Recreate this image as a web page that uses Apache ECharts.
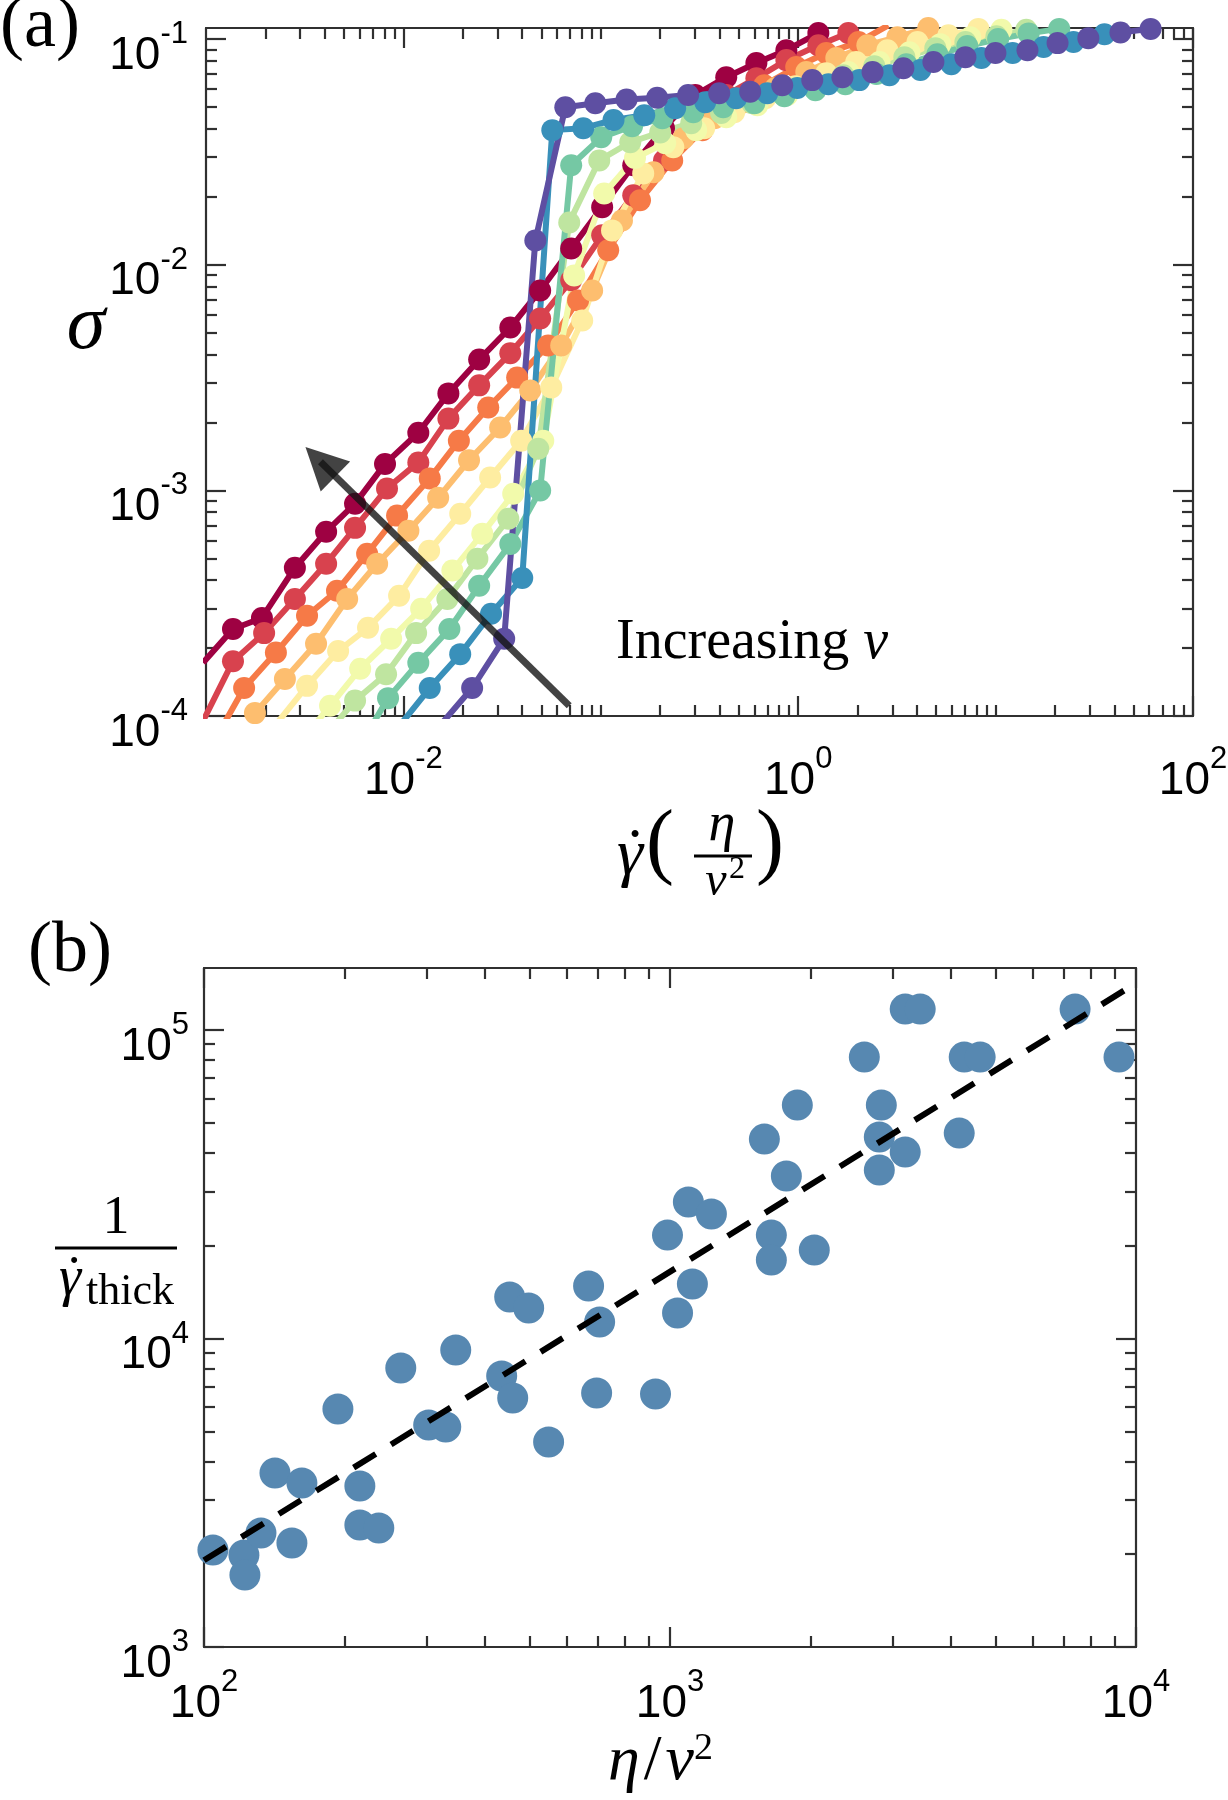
<!DOCTYPE html>
<html><head><meta charset="utf-8">
<script src="https://cdn.jsdelivr.net/npm/echarts@6/dist/echarts.min.js"></script>
<style>html,body{margin:0;padding:0;background:#fff}#c{width:1228px;height:1800px}</style>
</head><body><div id="c"></div>
<script>
// ---------------- Panel (a) data: shear rate (eta/v^2 units) vs stress ----------------
const curveColors = ['#9e0142','#d8424e','#f67a47','#fdbe6f','#feeda1','#f2faab','#bfe5a0','#75c8a4','#3990ba','#5e4fa2'];

const rate_v1 = [0.000966,0.00137,0.00192,0.00282,0.00406,0.00569,0.00807,0.0119,0.0169,0.0242,0.0348,0.0493,0.0708,0.1016,0.146,0.209,0.301,0.432,0.614,0.871,1.265];
const stress_v1 = [1.72e-4,2.43e-4,2.72e-4,4.54e-4,6.56e-4,8.73e-4,1.31e-3,1.80e-3,2.69e-3,3.80e-3,5.27e-3,7.69e-3,1.18e-2,1.80e-2,2.76e-2,4.03e-2,5.65e-2,6.78e-2,7.83e-2,8.93e-2,0.1064];

const rate_v2 = [0.000966,0.00137,0.00197,0.00282,0.00406,0.00569,0.00826,0.0119,0.0169,0.0242,0.0348,0.0493,0.0708,0.1016,0.146,0.209,0.301,0.432,0.614,0.871,1.265,1.795];
const stress_v2 = [9.5e-5,1.75e-4,2.33e-4,3.30e-4,4.73e-4,6.82e-4,1.02e-3,1.33e-3,2.08e-3,2.92e-3,4.05e-3,5.78e-3,8.53e-3,1.35e-2,2.03e-2,2.90e-2,4.15e-2,5.65e-2,6.71e-2,8.07e-2,9.40e-2,0.1064];

const rate_v3 = [0.00110,0.00156,0.00226,0.00325,0.00461,0.00655,0.00929,0.0136,0.0191,0.0269,0.0377,0.0541,0.0767,0.109,0.158,0.230,0.327,0.469,0.673,0.977,1.387,2.02,2.86];
const stress_v3 = [7.74e-5,1.33e-4,1.91e-4,2.78e-4,3.59e-4,5.24e-4,7.73e-4,1.13e-3,1.66e-3,2.33e-3,3.16e-3,4.39e-3,6.95e-3,1.16e-2,1.93e-2,2.90e-2,3.95e-2,5.09e-2,6.25e-2,7.52e-2,8.67e-2,9.70e-2,0.115];

const rate_v4 = [0.00125,0.00177,0.00251,0.00361,0.00519,0.00736,0.0106,0.0150,0.0215,0.0309,0.0439,0.0630,0.0904,0.128,0.185,0.262,0.376,0.533,0.766,1.099,1.56,2.24,3.18,4.56];
const stress_v4 = [7.14e-5,1.03e-4,1.46e-4,2.09e-4,3.30e-4,4.73e-4,6.62e-4,9.27e-4,1.36e-3,1.90e-3,2.77e-3,4.39e-3,7.69e-3,1.57e-2,2.57e-2,3.64e-2,4.46e-2,5.25e-2,6.07e-2,7.14e-2,8.24e-2,9.40e-2,0.102,0.112];

const rate_v5 = [0.00229,0.00325,0.00467,0.00662,0.00951,0.0135,0.0194,0.0275,0.0395,0.0561,0.0805,0.114,0.164,0.233,0.334,0.474,0.681,0.966,1.387,1.968,2.83,4.02,5.77,8.18];
const stress_v5 = [9.3e-5,1.36e-4,1.94e-4,2.46e-4,3.41e-4,5.40e-4,7.87e-4,1.14e-3,1.66e-3,2.86e-3,5.66e-3,1.42e-2,2.54e-2,3.32e-2,4.03e-2,4.74e-2,5.47e-2,6.18e-2,7.06e-2,7.91e-2,8.93e-2,9.70e-2,0.104,0.111];

const rate_v6 = [0.00299,0.00425,0.00604,0.00867,0.0123,0.0177,0.0251,0.0360,0.0511,0.0733,0.104,0.149,0.212,0.304,0.432,0.621,0.881,1.265,1.795,2.58,3.66,5.25,7.45,10.7];
const stress_v6 = [7.59e-5,1.11e-4,1.62e-4,2.20e-4,2.99e-4,4.41e-4,6.43e-4,9.66e-4,1.66e-3,8.97e-3,2.07e-2,2.97e-2,3.46e-2,3.95e-2,4.51e-2,5.09e-2,5.65e-2,6.31e-2,7.14e-2,7.91e-2,8.75e-2,9.50e-2,0.102,0.110];

const rate_v7 = [0.00401,0.00569,0.00817,0.0116,0.0167,0.0237,0.0340,0.0482,0.0692,0.0982,0.141,0.200,0.287,0.407,0.585,0.830,1.194,1.694,2.43,3.45,4.95,7.03,10.1,14.3];
const stress_v7 = [8.15e-5,1.17e-4,1.53e-4,2.33e-4,3.30e-4,4.98e-4,7.48e-4,1.53e-3,1.54e-2,2.90e-2,3.49e-2,3.86e-2,4.24e-2,4.70e-2,5.20e-2,5.70e-2,6.25e-2,6.92e-2,7.59e-2,8.32e-2,9.12e-2,9.70e-2,0.103,0.110];

const rate_v8 = [0.00582,0.00836,0.0119,0.0171,0.0242,0.0348,0.0493,0.0708,0.1005,0.144,0.205,0.294,0.417,0.600,0.851,1.222,1.734,2.49,3.53,5.07,7.19,10.3,14.7,21.0];
const stress_v8 = [7.0e-5,1.20e-4,1.72e-4,2.43e-4,3.78e-4,5.79e-4,9.98e-4,2.76e-2,3.67e-2,4.11e-2,4.46e-2,4.74e-2,4.99e-2,5.20e-2,5.58e-2,5.94e-2,6.31e-2,7.00e-2,7.74e-2,8.57e-2,9.31e-2,0.100,0.106,0.111];

const rate_v9 = [0.00951,0.0136,0.0194,0.0278,0.0400,0.0568,0.0815,0.116,0.166,0.238,0.338,0.485,0.697,0.989,1.422,2.04,2.90,4.16,5.97,8.47,12.2,17.5,24.8,35.6];
const stress_v9 = [9.0e-5,1.33e-4,1.88e-4,2.84e-4,4.09e-4,3.95e-2,4.03e-2,4.38e-2,4.60e-2,4.94e-2,5.25e-2,5.47e-2,5.75e-2,6.07e-2,6.31e-2,6.58e-2,6.92e-2,7.29e-2,7.74e-2,8.24e-2,8.67e-2,9.22e-2,9.70e-2,0.105];

const rate_v10 = [0.0157,0.0223,0.0324,0.0466,0.0661,0.0938,0.135,0.193,0.277,0.398,0.571,0.830,1.178,1.675,2.38,3.41,4.84,7.03,9.98,14.5,20.6,29.5,42.9,61.0];
const stress_v10 = [9.3e-5,1.33e-4,2.20e-4,1.28e-2,4.99e-2,5.20e-2,5.40e-2,5.50e-2,5.65e-2,5.75e-2,5.85e-2,6.25e-2,6.58e-2,6.78e-2,7.14e-2,7.43e-2,7.91e-2,8.32e-2,8.67e-2,8.93e-2,9.60e-2,0.101,0.107,0.111];

// arrow annotation (data coordinates of panel a)
const arrowFrom = [0.0692, 1.11e-4];
const arrowTo = [0.00380, 1.34e-3];

// ---------------- Panel (b) data ----------------
const etaOverV2 = [104.5,121.8,122.4,132.5,142.0,154.4,162.2,193.8,216.0,216.0,237.2,264.4,303.5,330.2,346.9,435.3,459.7,452.9,497.4,548.9,668.8,706.3,695.9,930.9,987.7,1038,1095,1117,1227,1594,1650,1650,1876,2040,2612,2841,2813,2813,3197,3443,3197,4279,4630,4175,7401,9194,1777];
const invGammaThick = [2063,1987,1712,2342,3664,2174,3401,5908,3326,2486,2431,8024,5243,5166,9177,7557,6413,13630,12560,4618,14800,11310,6657,6608,21650,12100,27700,15020,25330,44330,21650,17970,57140,19360,81750,57140,45000,35170,117000,117000,40230,81750,81750,46360,117000,81750,33640];
const fitX = [100, 10000];
const fitY = [1910, 142000];

// ---------------- ticks ----------------
const xMajorA = [0.01, 1, 100];
const xMinorA = [0.002,0.003,0.004,0.005,0.006,0.007,0.008,0.009,0.02,0.03,0.04,0.05,0.06,0.07,0.08,0.09,0.1,0.2,0.3,0.4,0.5,0.6,0.7,0.8,0.9,2,3,4,5,6,7,8,9,10,20,30,40,50,60,70,80,90];
const yMajorA = [1e-4, 1e-3, 1e-2, 1e-1];
const yMinorA = [2e-4,3e-4,4e-4,5e-4,6e-4,7e-4,8e-4,9e-4,2e-3,3e-3,4e-3,5e-3,6e-3,7e-3,8e-3,9e-3,0.02,0.03,0.04,0.05,0.06,0.07,0.08,0.09];
const xMajorB = [100, 1000, 10000];
const xMinorB = [200,300,400,500,600,700,800,900,2000,3000,4000,5000,6000,7000,8000,9000];
const yMajorB = [1000, 10000, 100000];
const yMinorB = [2000,3000,4000,5000,6000,7000,8000,9000,20000,30000,40000,50000,60000,70000,80000,90000];

const rangeA = {xmin: 0.001, xmax: 100, ymin: 1e-4, ymax: 0.112};
const rangeB = {xmin: 100, xmax: 10000, ymin: 1000, ymax: 159000};

// ---------------- option building ----------------
const AX = '#303030';
const SANS = '"Liberation Sans", Arial, sans-serif';
const SERIF = '"Liberation Serif", "DejaVu Serif", serif';

function powLabel(v) {
  const e = Math.round(Math.log10(v));
  return '{b|10}{s|' + e + '}';
}
const labelRich = {
  b: {fontFamily: SANS, fontSize: 46, lineHeight: 60, verticalAlign: 'bottom', color: '#000'},
  s: {fontFamily: SANS, fontSize: 31, lineHeight: 31, verticalAlign: 'top', color: '#000'}
};

function mkAxis(g, pos, min, max, ticks, len, line, labelVals, isY, margin) {
  const a = {
    type: 'log', logBase: 10, gridIndex: g, position: pos, min: min, max: max,
    axisLine: {show: line, onZero: false, lineStyle: {color: AX, width: 2.2}},
    axisTick: {show: true, inside: true, length: len, customValues: ticks, lineStyle: {color: AX, width: 2.2}},
    splitLine: {show: false}, minorTick: {show: false}, minorSplitLine: {show: false},
    axisLabel: {show: false}
  };
  if (labelVals) {
    a.axisLabel = {
      show: true, customValues: labelVals, formatter: powLabel, rich: labelRich,
      margin: margin, color: '#000'
    };
    if (isY) a.axisLabel.padding = [20, 0, 0, 0];
  }
  return a;
}

const xAxes = [
  mkAxis(0, 'bottom', rangeA.xmin, rangeA.xmax, xMajorA, 20, true, xMajorA, false, 28),
  mkAxis(0, 'bottom', rangeA.xmin, rangeA.xmax, xMinorA, 11, false, null),
  mkAxis(0, 'top', rangeA.xmin, rangeA.xmax, xMajorA, 20, true, null),
  mkAxis(0, 'top', rangeA.xmin, rangeA.xmax, xMinorA, 11, false, null),
  mkAxis(1, 'bottom', rangeB.xmin, rangeB.xmax, xMajorB, 20, true, xMajorB, false, 20),
  mkAxis(1, 'bottom', rangeB.xmin, rangeB.xmax, xMinorB, 11, false, null),
  mkAxis(1, 'top', rangeB.xmin, rangeB.xmax, xMajorB, 20, true, null),
  mkAxis(1, 'top', rangeB.xmin, rangeB.xmax, xMinorB, 11, false, null)
];
const yAxes = [
  mkAxis(0, 'left', rangeA.ymin, rangeA.ymax, yMajorA, 20, true, yMajorA, true, 18),
  mkAxis(0, 'left', rangeA.ymin, rangeA.ymax, yMinorA, 11, false, null),
  mkAxis(0, 'right', rangeA.ymin, rangeA.ymax, yMajorA, 20, true, null),
  mkAxis(0, 'right', rangeA.ymin, rangeA.ymax, yMinorA, 11, false, null),
  mkAxis(1, 'left', rangeB.ymin, rangeB.ymax, yMajorB, 20, true, yMajorB, true, 15),
  mkAxis(1, 'left', rangeB.ymin, rangeB.ymax, yMinorB, 11, false, null),
  mkAxis(1, 'right', rangeB.ymin, rangeB.ymax, yMajorB, 20, true, null),
  mkAxis(1, 'right', rangeB.ymin, rangeB.ymax, yMinorB, 11, false, null)
];

const curves = [
  [rate_v1, stress_v1],[rate_v2, stress_v2],[rate_v3, stress_v3],[rate_v4, stress_v4],[rate_v5, stress_v5],
  [rate_v6, stress_v6],[rate_v7, stress_v7],[rate_v8, stress_v8],[rate_v9, stress_v9],[rate_v10, stress_v10]
];
const series = curves.map(function (c, i) {
  return {
    type: 'line', xAxisIndex: 0, yAxisIndex: 0, z: 2,
    data: c[0].map(function (x, k) { return [x, c[1][k]]; }),
    symbol: 'circle', symbolSize: 22, showSymbol: true, clip: true,
    lineStyle: {color: curveColors[i], width: 6},
    itemStyle: {color: curveColors[i], borderWidth: 0},
    emphasis: {disabled: true}, silent: true
  };
});
series.push({
  type: 'line', xAxisIndex: 0, yAxisIndex: 0, z: 5, data: [], silent: true,
  markLine: {
    silent: true, animation: false, symbol: ['none', 'triangle'], symbolSize: 42,
    lineStyle: {color: 'rgba(20,20,20,0.8)', width: 7, type: 'solid'},
    label: {show: false}, emphasis: {disabled: true},
    data: [[{coord: arrowFrom}, {coord: arrowTo}]]
  }
});
series.push({
  type: 'scatter', xAxisIndex: 4, yAxisIndex: 4, z: 2,
  data: etaOverV2.map(function (x, k) { return [x, invGammaThick[k]]; }),
  symbol: 'circle', symbolSize: 31,
  itemStyle: {color: '#5788b1', opacity: 1}, emphasis: {disabled: true}, silent: true
});
series.push({
  type: 'line', xAxisIndex: 4, yAxisIndex: 4, z: 4,
  data: fitX.map(function (x, k) { return [x, fitY[k]]; }),
  showSymbol: false, symbol: 'none',
  lineStyle: {color: '#000', width: 6, type: [26, 18]},
  emphasis: {disabled: true}, silent: true
});

function txt(x, y, text, font, align, extra) {
  const st = {text: text, font: font, fill: '#000', align: align || 'left', verticalAlign: 'middle'};
  if (extra) Object.assign(st, extra);
  return {type: 'text', x: x, y: y, z: 20, silent: true, style: st};
}
function hline(x1, x2, y, w) {
  return {type: 'line', z: 20, silent: true, shape: {x1: x1, y1: y, x2: x2, y2: y}, style: {stroke: '#000', lineWidth: w}};
}

const graphics = [
  txt(0, 27, '(a)', '72px ' + SERIF),
  txt(28, 952, '(b)', '72px ' + SERIF),
  txt(86, 327, 'σ', 'italic 78px ' + SERIF, 'center'),
  txt(616, 643, '{n|Increasing }{i|v}', '56px ' + SERIF, 'left', {
    rich: {n: {font: '56px ' + SERIF, fill: '#000'}, i: {font: 'italic 56px ' + SERIF, fill: '#000'}}
  }),
  // x-axis title of (a):  gamma-dot ( eta / v^2 )
  txt(630, 857, 'γ', 'italic 66px ' + SERIF, 'center'),
  txt(635, 857, '˙', '66px ' + SERIF, 'center'),
  txt(660, 846, '(', '84px ' + SERIF, 'center'),
  txt(722, 826, 'η', 'italic 54px ' + SERIF, 'center'),
  hline(694, 752, 856, 3),
  txt(716, 882, 'v', 'italic 48px ' + SERIF, 'center'),
  txt(729, 870, '2', '32px ' + SERIF, 'left'),
  txt(770, 846, ')', '84px ' + SERIF, 'center'),
  // y-axis title of (b): 1 / gamma-dot_thick
  txt(116, 1219, '1', '54px ' + SERIF, 'center'),
  hline(55, 177, 1248, 3),
  txt(70, 1280, 'γ', 'italic 56px ' + SERIF, 'center'),
  txt(74, 1280, '˙', '56px ' + SERIF, 'center'),
  txt(86, 1292, 'thick', '44px ' + SERIF, 'left'),
  // x-axis title of (b): eta / v^2
  txt(608, 1762, '{e|η}{l|/}{v|v}{s|2}', '64px ' + SERIF, 'left', {
    rich: {
      e: {font: 'italic 64px ' + SERIF, fill: '#000', padding: [0, 4, 0, 0]},
      l: {font: '64px ' + SERIF, fill: '#000', padding: [0, 4, 0, 0]},
      v: {font: 'italic 64px ' + SERIF, fill: '#000'},
      s: {font: '38px ' + SERIF, fill: '#000', verticalAlign: 'top', lineHeight: 38}
    }
  })
];

const option = {
  backgroundColor: '#fff',
  animation: false,
  textStyle: {fontFamily: SANS},
  grid: [
    {left: 206, top: 28, width: 987, height: 688, containLabel: false, outerBoundsMode: 'none'},
    {left: 204, top: 968, width: 932, height: 679, containLabel: false, outerBoundsMode: 'none'}
  ],
  xAxis: xAxes,
  yAxis: yAxes,
  series: series,
  graphic: graphics
};

const chart = echarts.init(document.getElementById('c'), null, {renderer: 'canvas', width: 1228, height: 1800});
chart.setOption(option);
</script>
</body></html>
